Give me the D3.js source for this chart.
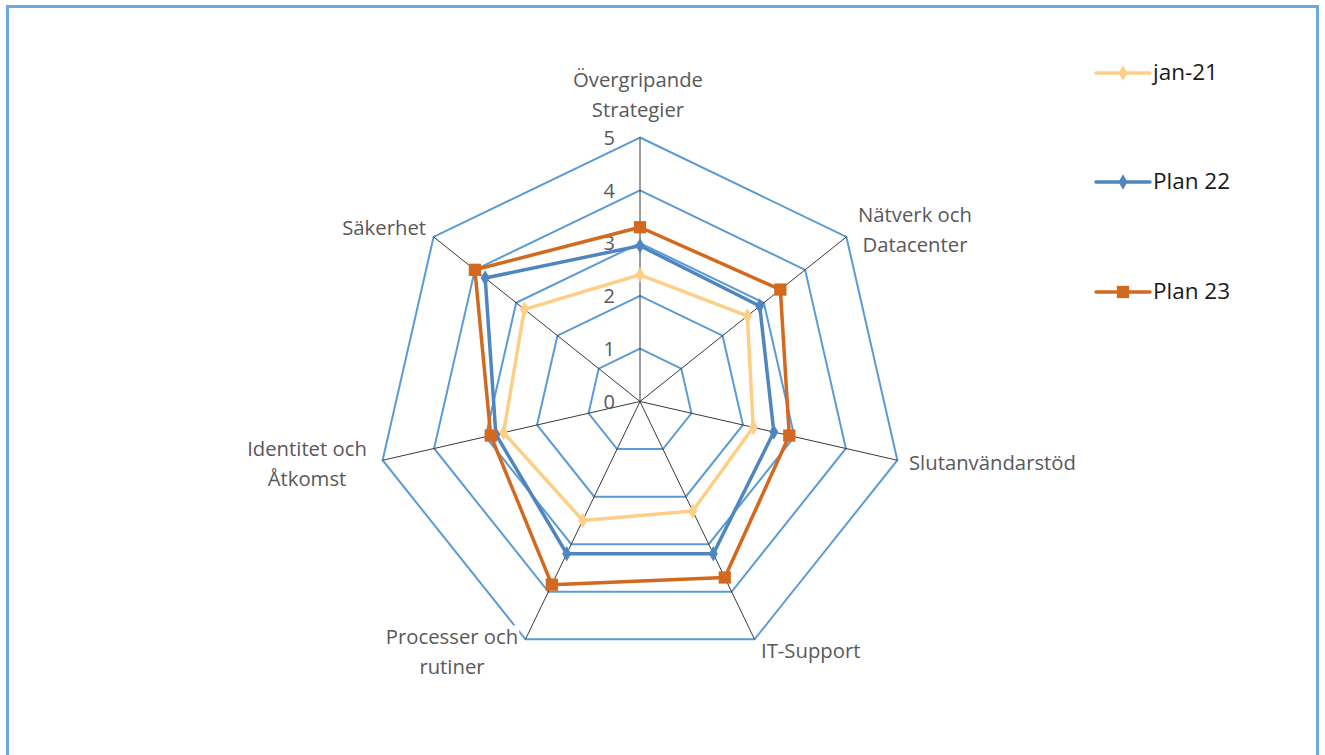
<!DOCTYPE html>
<html>
<head>
<meta charset="utf-8">
<script src="https://cdn.jsdelivr.net/npm/d3@7/dist/d3.min.js"></script>
<style>
html,body{margin:0;padding:0;background:#fff;}
svg{display:block;}
</style>
</head>
<body>
<svg id="chart" width="1325" height="755"></svg>
<script>
const categories = [
  ["Övergripande", "Strategier"],
  ["Nätverk och", "Datacenter"],
  ["Slutanvändarstöd"],
  ["IT-Support"],
  ["Processer och", "rutiner"],
  ["Identitet och", "Åtkomst"],
  ["Säkerhet"]
];
const seriesNames = ["jan-21", "Plan 22", "Plan 23"];
const jan21  = [2.4, 2.6, 2.2, 2.3, 2.5, 2.65, 2.8];
const plan22 = [2.95, 2.9, 2.6, 3.2, 3.2, 2.8, 3.75];
const plan23 = [3.3, 3.4, 2.9, 3.7, 3.85, 2.9, 4.0];
const tickValues = [0, 1, 2, 3, 4, 5];

const colors = ["#fdcf86", "#4f86c0", "#d2691e"];
const markers = ["diamond", "diamond", "square"];
const seriesValues = [jan21, plan22, plan23];

const FONT = "'Open Sans', 'Noto Sans', sans-serif";
const svg = d3.select("#chart");
const cx = 640, cy = 401.5;
const r = d3.scaleLinear().domain([0, 5]).range([0, 264]);
const n = categories.length;
const angle = d3.scaleLinear().domain([0, n]).range([0, 2 * Math.PI]);
const pt = (i, v) => [cx + r(v) * Math.sin(angle(i)), cy - r(v) * Math.cos(angle(i))];

// frame
svg.append("rect").attr("x", 7.5).attr("y", 6.5).attr("width", 1310).attr("height", 760)
  .attr("fill", "none").attr("stroke", "#6fa8dc").attr("stroke-width", 3);

const g = svg.append("g");

// rings
tickValues.filter(t => t > 0).forEach(t => {
  const pts = d3.range(n).map(i => pt(i, t));
  g.append("path")
    .attr("d", "M" + pts.map(p => p.join(",")).join("L") + "Z")
    .attr("fill", "none").attr("stroke", "#5b9bd5").attr("stroke-width", 2);
});

// spokes
d3.range(n).forEach(i => {
  const p = pt(i, 5);
  g.append("line").attr("x1", cx).attr("y1", cy).attr("x2", p[0]).attr("y2", p[1])
    .attr("stroke", "#3a3a3a").attr("stroke-width", 1);
});

// tick labels
tickValues.forEach(t => {
  g.append("text").attr("x", cx - 25).attr("y", cy - r(t) + 2)
    .attr("text-anchor", "end").attr("dominant-baseline", "middle")
    .attr("font-family", FONT).attr("font-size", 20)
    .attr("fill", "#595959").text(t);
});

// series
const line = d3.line().curve(d3.curveLinearClosed);
seriesValues.forEach((vals, s) => {
  const pts = vals.map((v, i) => pt(i, v));
  g.append("path").attr("d", line(pts)).attr("fill", "none")
    .attr("stroke", colors[s]).attr("stroke-width", 3.5).attr("stroke-linejoin", "round");
  const sym = markers[s] === "square" ? d3.symbolSquare : d3.symbolDiamond;
  const size = markers[s] === "square" ? 150 : 70;
  g.selectAll(null).data(pts).enter().append("path")
    .attr("transform", d => `translate(${d[0]},${d[1]})`)
    .attr("d", d3.symbol().type(sym).size(size))
    .attr("fill", colors[s]);
});

// category labels
const labelPos = [
  {x: 638, y: 82, anchor: "middle"},
  {x: 915, y: 217, anchor: "middle"},
  {x: 909, y: 465, anchor: "start"},
  {x: 761, y: 653, anchor: "start"},
  {x: 452, y: 639, anchor: "middle"},
  {x: 307, y: 451, anchor: "middle"},
  {x: 426, y: 230, anchor: "end"}
];
categories.forEach((lines, i) => {
  const lp = labelPos[i];
  const lg = g.append("g");
  const t = lg.append("text").attr("text-anchor", lp.anchor)
    .attr("font-family", FONT).attr("font-size", 20.3)
    .attr("fill", "#595959");
  lines.forEach((l, k) => {
    t.append("tspan").attr("x", lp.x).attr("y", lp.y + k * 30)
      .attr("dominant-baseline", "middle").text(l);
  });
  const bb = t.node().getBBox();
  lg.insert("rect", "text").attr("x", bb.x - 1).attr("y", bb.y + 3)
    .attr("width", bb.width + 2).attr("height", bb.height - 6).attr("fill", "#fff");
});

// legend
const legendY = [73, 182, 292];
seriesNames.forEach((name, s) => {
  const y = legendY[s];
  svg.append("line").attr("x1", 1096).attr("x2", 1150).attr("y1", y).attr("y2", y)
    .attr("stroke", colors[s]).attr("stroke-width", 3.5).attr("stroke-linecap", "round");
  const sym = markers[s] === "square" ? d3.symbolSquare : d3.symbolDiamond;
  const size = markers[s] === "square" ? 150 : 70;
  svg.append("path").attr("transform", `translate(1123,${y})`)
    .attr("d", d3.symbol().type(sym).size(size)).attr("fill", colors[s]);
  svg.append("text").attr("x", 1153).attr("y", y + 1).attr("dominant-baseline", "middle")
    .attr("font-family", FONT).attr("font-size", 22.5)
    .attr("fill", "#1a1a1a").text(name);
});
</script>
</body>
</html>
